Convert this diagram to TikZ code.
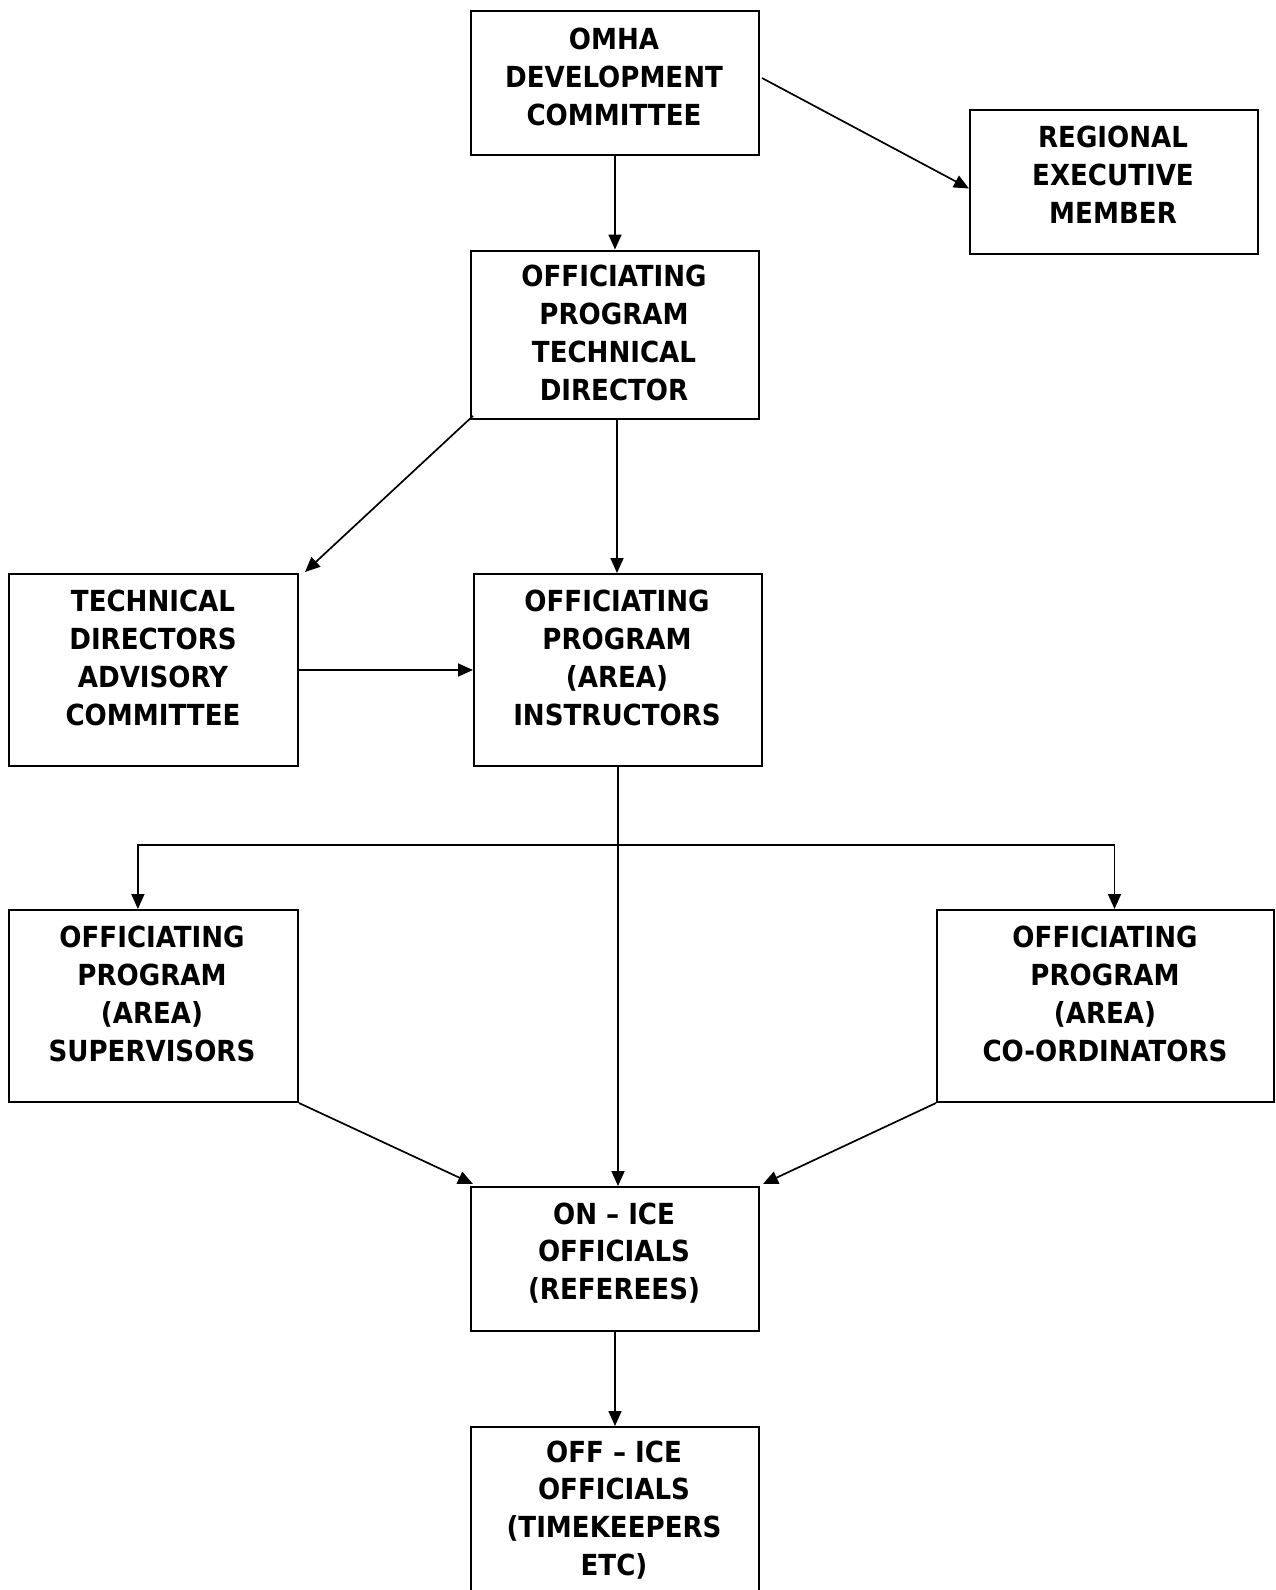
\documentclass[tikz,border=0pt]{standalone}
\usepackage{fontspec}
\newfontfamily\boxfont{DejaVu Sans Condensed Bold}
\usetikzlibrary{arrows.meta,calc}
\tikzset{
  box/.style={draw, line width=2pt, inner sep=0pt, anchor=north west},
  txt/.style={align=center, inner sep=0pt, font=\boxfont\fontsize{29}{37.8}\selectfont},
  arr/.style={line width=1.7pt, -{Triangle[length=15pt,width=13pt]}}
}
\begin{document}
\begin{tikzpicture}[x=1pt,y=-1pt]
\useasboundingbox (0,0) rectangle (1275,1590);
\clip (0,0) rectangle (1275,1590);
\fill[white] (0,0) rectangle (1275,1590);
% boxes
\node[box, minimum width=288pt, minimum height=144pt] (omha) at (470,10) {};
\node[box, minimum width=288pt, minimum height=144pt] (reg) at (969,108.5) {};
\node[box, minimum width=288pt, minimum height=168.4pt] (optd) at (470,249.5) {};
\node[box, minimum width=289pt, minimum height=192pt] (tdac) at (8,573) {};
\node[box, minimum width=288pt, minimum height=192pt] (inst) at (473,573) {};
\node[box, minimum width=289pt, minimum height=192pt] (sup) at (8,909) {};
\node[box, minimum width=337pt, minimum height=192pt] (coord) at (936,909) {};
\node[box, minimum width=288pt, minimum height=144pt] (onice) at (470,1186) {};
\node[box, minimum width=288pt, minimum height=220pt] (office) at (470,1426) {};
% texts
\node[txt] (tomha) at (614,77) {OMHA\\DEVELOPMENT\\COMMITTEE};
\node[txt] (treg) at (1113,175) {REGIONAL\\EXECUTIVE\\MEMBER};
\node[txt] (toptd) at (614,333) {OFFICIATING\\PROGRAM\\TECHNICAL\\DIRECTOR};
\node[txt] (ttdac) at (153,658) {TECHNICAL\\DIRECTORS\\ADVISORY\\COMMITTEE};
\node[txt] (tinst) at (617,658) {OFFICIATING\\PROGRAM\\(AREA)\\INSTRUCTORS};
\node[txt] (tsup) at (152,994) {OFFICIATING\\PROGRAM\\(AREA)\\SUPERVISORS};
\node[txt] (tcoord) at (1105,994) {OFFICIATING\\PROGRAM\\(AREA)\\CO-ORDINATORS};
\node[txt] (tonice) at (614,1253) {ON – ICE\\OFFICIALS\\(REFEREES)};
\node[txt] (toffice) at (614,1510) {OFF – ICE\\OFFICIALS\\(TIMEKEEPERS\\ETC)};
% connectors
\draw[arr] (omha.south) -- (optd.north);
\draw[arr] ([xshift=2pt,yshift=5pt]omha.east) -- ([yshift=-7pt]reg.west);
\draw[arr] ([xshift=3pt,yshift=4pt]optd.south west) -- ([xshift=6pt,yshift=1pt]tdac.north east);
\draw[arr] ([xshift=2pt]optd.south) -- ([xshift=2pt]optd.south |- inst.north);
\draw[arr] (tdac.east) -- (inst.west);
\draw[arr] (inst.south) -- (inst.south |- onice.north);
\coordinate (jn) at (inst.south |- 0,845);
\draw[arr] (jn) -| ([xshift=-15.6pt]sup.north);
\draw[arr] (jn) -| ([xshift=9pt]coord.north);
\draw[arr] (sup.south east) -- ([xshift=3pt,yshift=2pt]onice.north west);
\draw[arr] (coord.south west) -- ([xshift=3pt,yshift=2pt]onice.north east);
\draw[arr] (onice.south) -- (office.north);
\end{tikzpicture}
\end{document}
